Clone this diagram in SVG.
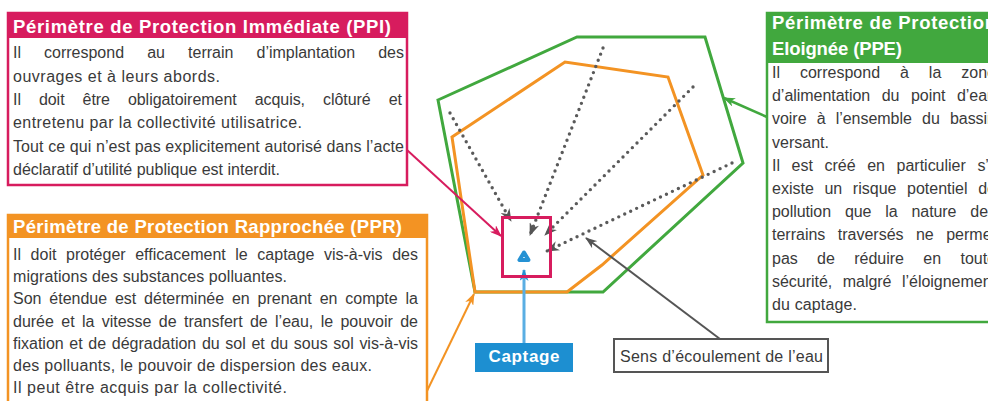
<svg xmlns="http://www.w3.org/2000/svg" width="988" height="401" viewBox="0 0 988 401">
<style>
.body{font-family:"Liberation Sans",Arial,sans-serif;font-size:16px;fill:#3a3a3a}
.head{font-family:"Liberation Sans",Arial,sans-serif;font-size:18.5px;font-weight:bold;fill:#fff}
.dots{fill:none;stroke:#5a5a5a;stroke-width:3.4;stroke-linecap:round;stroke-dasharray:0 6.6}
</style>
<defs>
<marker id="ah-dot" viewBox="0 0 13 10" refX="12" refY="5" markerWidth="13" markerHeight="10" markerUnits="userSpaceOnUse" orient="auto"><path d="M0,0 L13,5 L0,10 L4,5 Z" fill="#555"/></marker>
<marker id="ah-gray" viewBox="0 0 12 9" refX="11" refY="4.5" markerWidth="12" markerHeight="9" markerUnits="userSpaceOnUse" orient="auto"><path d="M0,0 L12,4.5 L0,9 L3.5,4.5 Z" fill="#555"/></marker>
<marker id="ah-pink" viewBox="0 0 12 9" refX="11" refY="4.5" markerWidth="12" markerHeight="9" markerUnits="userSpaceOnUse" orient="auto"><path d="M0,0 L12,4.5 L0,9 L3.5,4.5 Z" fill="#d71c5e"/></marker>
<marker id="ah-orange" viewBox="0 0 12 9" refX="11" refY="4.5" markerWidth="12" markerHeight="9" markerUnits="userSpaceOnUse" orient="auto"><path d="M0,0 L12,4.5 L0,9 L3.5,4.5 Z" fill="#f39323"/></marker>
<marker id="ah-green" viewBox="0 0 12 9" refX="11" refY="4.5" markerWidth="12" markerHeight="9" markerUnits="userSpaceOnUse" orient="auto"><path d="M0,0 L12,4.5 L0,9 L3.5,4.5 Z" fill="#41a83e"/></marker>
<marker id="ah-blue" viewBox="0 0 12 9" refX="11" refY="4.5" markerWidth="12" markerHeight="9" markerUnits="userSpaceOnUse" orient="auto"><path d="M0,0 L12,4.5 L0,9 L3.5,4.5 Z" fill="#2592d4"/></marker>
</defs>
<rect width="988" height="401" fill="#fff"/>

<g id="zone-ppe">
<polygon points="438,100 577,37 705,37 743,163 603,292 475,292" fill="none" stroke="#41a83e" stroke-width="3"/>
</g>
<g id="zone-ppr">
<polygon points="452,137 565,62 668,77 703,175 602,265 567,292 475,292" fill="none" stroke="#f39323" stroke-width="3"/>
</g>

<g id="connectors">
<line class="dots" x1="450" y1="113" x2="511" y2="221" marker-end="url(#ah-dot)"/>
<line class="dots" x1="603" y1="48" x2="530" y2="235" marker-end="url(#ah-dot)"/>
<line class="dots" x1="693" y1="87" x2="545" y2="235" marker-end="url(#ah-dot)"/>
<line class="dots" x1="732" y1="163" x2="547" y2="251" marker-end="url(#ah-dot)"/>
<line x1="407" y1="150" x2="501" y2="236" stroke="#d71c5e" stroke-width="2" marker-end="url(#ah-pink)"/>
<line x1="426" y1="393" x2="474" y2="294" stroke="#f39323" stroke-width="2" marker-end="url(#ah-orange)"/>
<line x1="767" y1="117" x2="724" y2="98" stroke="#41a83e" stroke-width="2.5" marker-end="url(#ah-green)"/>
<line x1="720" y1="339" x2="586" y2="238" stroke="#555" stroke-width="2" marker-end="url(#ah-gray)"/>
<line x1="524" y1="343" x2="524" y2="270" stroke="#5aaee3" stroke-width="3" marker-end="url(#ah-blue)"/>
</g>

<g id="zone-ppi">
<rect x="502.5" y="217.5" width="48" height="59" fill="none" stroke="#d71c5e" stroke-width="3"/>
</g>
<g id="captage-point">
<polygon points="524,252.5 519.5,260 528.5,260" fill="#fff" stroke="#2592d4" stroke-width="4" stroke-linejoin="round"/>
</g>

<g id="node-ppi">
<rect x="8" y="13" width="399" height="172" fill="#fff" stroke="#d71c5e" stroke-width="2.5"/>
<rect x="8" y="13" width="399" height="25" fill="#d71c5e"/>
<text class="head" x="13" y="33" textLength="378">Périmètre de Protection Immédiate (PPI)</text>
<text class="body" x="13" y="58.3" word-spacing="18.7" textLength="391">Il correspond au terrain d’implantation des</text>
<text class="body" x="13" y="81.6" textLength="207">ouvrages et à leurs abords.</text>
<text class="body" x="13" y="104.9" word-spacing="13.6" textLength="389">Il doit être obligatoirement acquis, clôturé et</text>
<text class="body" x="13" y="128.2" textLength="289">entretenu par la collectivité utilisatrice.</text>
<text class="body" x="13" y="151.5" textLength="391">Tout ce qui n’est pas explicitement autorisé dans l’acte</text>
<text class="body" x="13" y="174.8" textLength="267">déclaratif d’utilité publique est interdit.</text>
</g>

<g id="node-ppr">
<rect x="8" y="215" width="419" height="200" fill="#fff" stroke="#f39323" stroke-width="2.5"/>
<rect x="8" y="215" width="419" height="23" fill="#f39323"/>
<text class="head" x="13" y="233" textLength="389">Périmètre de Protection Rapprochée (PPR)</text>
<text class="body" x="13" y="260" word-spacing="5.1" textLength="405">Il doit protéger efficacement le captage vis-à-vis des</text>
<text class="body" x="13" y="282.2" textLength="274">migrations des substances polluantes.</text>
<text class="body" x="13" y="304.4" word-spacing="3.4" textLength="405">Son étendue est déterminée en prenant en compte la</text>
<text class="body" x="13" y="326.6" word-spacing="2.9" textLength="405">durée et la vitesse de transfert de l’eau, le pouvoir de</text>
<text class="body" x="13" y="348.8" word-spacing="1.2" textLength="405">fixation et de dégradation du sol et du sous sol vis-à-vis</text>
<text class="body" x="13" y="371" textLength="359">des polluants, le pouvoir de dispersion des eaux.</text>
<text class="body" x="13" y="393.2" textLength="274">Il peut être acquis par la collectivité.</text>
</g>

<g id="node-ppe">
<rect x="767" y="13" width="240" height="309" fill="#fff" stroke="#41a83e" stroke-width="2.5"/>
<rect x="767" y="13" width="240" height="50" fill="#41a83e"/>
<text class="head" x="772" y="29" textLength="224">Périmètre de Protection</text>
<text class="head" x="772" y="55" textLength="130">Eloignée (PPE)</text>
<text class="body" x="772" y="78" word-spacing="15.5" textLength="224">Il correspond à la zone</text>
<text class="body" x="772" y="101.2" word-spacing="7.1" textLength="224">d’alimentation du point d’eau</text>
<text class="body" x="772" y="124.4" word-spacing="5.7" textLength="224">voire à l’ensemble du bassin</text>
<text class="body" x="772" y="147.6">versant.</text>
<text class="body" x="772" y="170.8" word-spacing="7.2" textLength="224">Il est créé en particulier s’il</text>
<text class="body" x="772" y="194" word-spacing="6.2" textLength="224">existe un risque potentiel de</text>
<text class="body" x="772" y="217.2" word-spacing="9.5" textLength="224">pollution que la nature des</text>
<text class="body" x="772" y="240.4" word-spacing="8" textLength="224">terrains traversés ne permet</text>
<text class="body" x="772" y="263.6" word-spacing="14.9" textLength="224">pas de réduire en toute</text>
<text class="body" x="772" y="286.8" word-spacing="6" textLength="224">sécurité, malgré l’éloignement</text>
<text class="body" x="772" y="310" textLength="85">du captage.</text>
</g>

<g id="node-captage">
<rect x="475" y="343" width="98" height="29" fill="#1d8fd1"/>
<text x="524" y="362" text-anchor="middle" textLength="71" font-family="Liberation Sans, Arial, sans-serif" font-size="17" font-weight="bold" fill="#fff">Captage</text>
</g>

<g id="node-sens">
<rect x="614" y="339" width="214" height="33" fill="#fff" stroke="#555" stroke-width="2"/>
<text class="body" x="620" y="362" textLength="203">Sens d’écoulement de l’eau</text>
</g>
</svg>
